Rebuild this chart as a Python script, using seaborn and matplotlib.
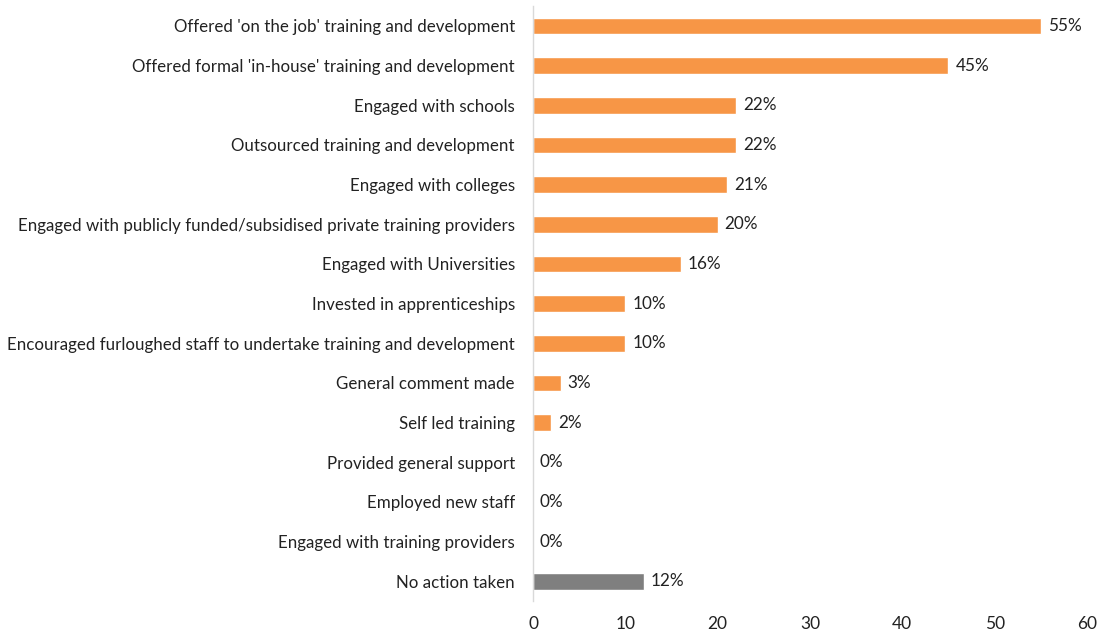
import matplotlib
matplotlib.use("Agg")
import matplotlib.pyplot as plt
import seaborn as sns
import pandas as pd

actions = [
    "Offered 'on the job' training and development",
    "Offered formal 'in-house' training and development",
    "Engaged with schools",
    "Outsourced training and development",
    "Engaged with colleges",
    "Engaged with publicly funded/subsidised private training providers",
    "Engaged with Universities",
    "Invested in apprenticeships",
    "Encouraged furloughed staff to undertake training and development",
    "General comment made",
    "Self led training",
    "Provided general support",
    "Employed new staff",
    "Engaged with training providers",
    "No action taken",
]
percent = [55, 45, 22, 22, 21, 20, 16, 10, 10, 3, 2, 0, 0, 0, 12]
group = ["action"] * 14 + ["none"]

palette = {"action": "#F79646", "none": "#7F7F7F"}

df = pd.DataFrame({"action": actions, "percent": percent, "group": group})

sns.set_theme(style="white")
plt.rcParams["font.family"] = ["Lato", "DejaVu Sans"]

fig = plt.figure(figsize=(10.99, 6.35), dpi=100)
ax = fig.add_axes([0.485, 0.0535, 0.504, 0.937])

sns.barplot(data=df, x="percent", y="action", hue="group", palette=palette,
            dodge=False, width=0.42, legend=False, ax=ax, saturation=1)

for cont in ax.containers:
    labels = [f"{v:.0f}%" for v in cont.datavalues]
    ax.bar_label(cont, labels=labels, padding=5, fontsize=12.3, color="#222222")

ax.set_xlim(0, 60)
ax.set_xticks(range(0, 61, 10))
ax.set_xlabel("")
ax.set_ylabel("")
ax.tick_params(axis="x", labelsize=12.5, length=0, pad=11, colors="#222222")
ax.tick_params(axis="y", labelsize=12.2, length=0, pad=13, colors="#222222")
for side in ["top", "right", "bottom"]:
    ax.spines[side].set_visible(False)
ax.spines["left"].set_color("#D9D9D9")
ax.spines["left"].set_linewidth(1)

fig.savefig("out.png", dpi=100, facecolor="white")
